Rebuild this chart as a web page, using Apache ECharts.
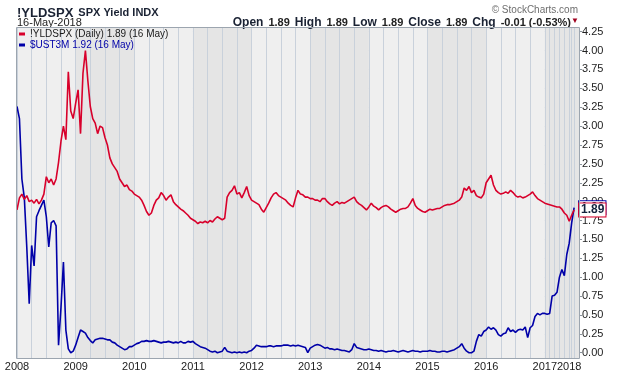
<!DOCTYPE html>
<html>
<head>
<meta charset="utf-8">
<script src="https://cdn.jsdelivr.net/npm/echarts@6/dist/echarts.min.js"></script>
<style>
  html, body { margin: 0; padding: 0; background: #fff; }
  #chart { width: 620px; height: 376px; }
</style>
</head>
<body>
<div id="chart"></div>
<script>
// !YLDSPX, semi-monthly samples (2008 .. 2016), then the compressed 2017/2018 part
const yldspx = [
  1.89, 2.05, 2.10, 2.03, 2.08, 2.00, 2.02, 1.98, 2.03, 1.97, 2.02, 2.10,
  2.33, 2.25, 2.30, 2.22, 2.30, 2.52, 2.80, 3.00, 2.82, 3.72, 3.20, 3.10,
  3.30, 3.48, 2.90, 3.70, 4.00, 3.60, 3.26, 3.10, 3.04, 2.90, 3.00, 2.98,
  2.85, 2.75, 2.58, 2.50, 2.45, 2.40, 2.30, 2.25, 2.20, 2.22, 2.16, 2.14,
  2.10, 2.08, 2.06, 2.02, 1.95, 1.87, 1.82, 1.85, 1.95, 2.02, 2.05, 2.12,
  2.08, 2.02, 2.06, 2.09, 2.00, 1.96, 1.93, 1.90, 1.88, 1.85, 1.82, 1.78,
  1.76, 1.74, 1.71, 1.73, 1.72, 1.74, 1.72, 1.75, 1.73, 1.77, 1.80, 1.78,
  1.76, 1.78, 2.06, 2.12, 2.15, 2.21, 2.10, 2.12, 2.05, 2.12, 2.20, 2.08,
  2.02, 2.00, 1.98, 1.96, 1.90, 1.86, 1.92, 1.98, 2.05, 2.10, 2.12, 2.08,
  2.06, 2.04, 2.02, 1.98, 1.95, 1.93, 2.05, 2.15, 2.10, 2.09, 2.06, 2.06,
  2.04, 2.04, 2.02, 2.02, 2.00, 2.04, 2.04, 2.00, 1.97, 1.95, 1.98, 2.00,
  1.97, 1.99, 1.98, 2.00, 2.02, 2.04, 2.06, 2.00, 1.97, 1.95, 1.92, 1.89,
  1.93, 1.98, 1.94, 1.92, 1.89, 1.92, 1.94, 1.95, 1.93, 1.90, 1.88, 1.86,
  1.88, 1.90, 1.91, 1.91, 1.93, 1.98, 2.04, 1.95, 1.91, 1.89, 1.87, 1.86,
  1.88, 1.90, 1.89, 1.90, 1.91, 1.91, 1.93, 1.95, 1.96, 1.96, 1.97, 1.98,
  2.00, 2.02, 2.06, 2.18, 2.15, 2.20, 2.12, 2.15, 2.08, 2.06, 2.05, 2.10,
  2.25, 2.30, 2.35, 2.22, 2.15, 2.12, 2.10, 2.11, 2.13, 2.11, 2.15, 2.12,
  2.08, 2.06, 2.07, 2.05, 2.06, 2.08, 2.10, 2.13, 2.08, 2.04, 2.02, 2.00,
  1.98, 1.97, 1.96, 1.95, 1.94, 1.93, 1.93, 1.90, 1.85, 1.82, 1.74, 1.82, 1.89
]

// $UST3M, same sampling
const ust3m = [
  3.26, 3.10, 2.30, 2.05, 1.40, 0.65, 1.42, 1.15, 1.80, 1.88, 1.95, 2.02,
  1.80, 1.40, 1.72, 1.75, 1.68, 0.10, 0.60, 1.20, 0.30, 0.05, 0.00, 0.02,
  0.10, 0.20, 0.30, 0.28, 0.26, 0.20, 0.16, 0.13, 0.17, 0.18, 0.19, 0.19,
  0.18, 0.17, 0.17, 0.14, 0.13, 0.10, 0.08, 0.06, 0.04, 0.05, 0.08, 0.08,
  0.10, 0.12, 0.13, 0.15, 0.15, 0.16, 0.15, 0.15, 0.16, 0.15, 0.14, 0.13,
  0.14, 0.14, 0.15, 0.14, 0.13, 0.14, 0.13, 0.15, 0.13, 0.13, 0.15, 0.14,
  0.15, 0.12, 0.10, 0.08, 0.07, 0.06, 0.04, 0.02, 0.01, 0.02, 0.00, 0.01,
  0.02, 0.07, 0.02, 0.01, 0.00, 0.01, 0.00, 0.01, 0.00, 0.01, 0.00, 0.02,
  0.03, 0.06, 0.10, 0.09, 0.08, 0.08, 0.08, 0.09, 0.09, 0.08, 0.09, 0.09,
  0.09, 0.10, 0.10, 0.10, 0.09, 0.10, 0.09, 0.10, 0.09, 0.08, 0.07, 0.00,
  0.06, 0.08, 0.10, 0.11, 0.10, 0.08, 0.06, 0.07, 0.05, 0.05, 0.04, 0.05,
  0.04, 0.03, 0.03, 0.02, 0.01, 0.04, 0.12, 0.07, 0.06, 0.05, 0.04, 0.04,
  0.05, 0.04, 0.03, 0.03, 0.02, 0.03, 0.02, 0.01, 0.02, 0.02, 0.03, 0.02,
  0.01, 0.02, 0.03, 0.02, 0.01, 0.02, 0.03, 0.02, 0.02, 0.01, 0.02, 0.02,
  0.02, 0.03, 0.02, 0.02, 0.01, 0.01, 0.02, 0.02, 0.01, 0.02, 0.03, 0.04,
  0.06, 0.08, 0.12, 0.06, 0.02, 0.00, 0.00, 0.02, 0.15, 0.24, 0.22, 0.28,
  0.30, 0.34, 0.31, 0.33, 0.30, 0.24, 0.22, 0.25, 0.26, 0.33, 0.28, 0.30,
  0.27, 0.30, 0.31, 0.30, 0.34, 0.20, 0.33, 0.36, 0.48, 0.52, 0.50, 0.52,
  0.52, 0.51, 0.52, 0.75, 0.76, 0.80, 1.00, 1.10, 1.02, 1.30, 1.45, 1.72, 1.92
]

// the chart squeezes 2017 onward, so those samples are spaced wider in time
const laterDates = [
  '2017-01-01', '2017-02-06', '2017-03-15', '2017-04-20', '2017-05-26',
  '2017-07-01', '2017-08-06', '2017-09-12', '2017-10-18', '2017-11-24',
  '2018-01-01', '2018-03-08', '2018-05-16', '2018-06-10', '2018-07-05'
]
const laterGridIdx = [216, 218, 220, 222, 224, 226, 227, 228]

const dates = []
for (let y = 2008; y <= 2016; y++) {
  for (let m = 1; m <= 12; m++) {
    const mm = String(m).padStart(2, '0')
    dates.push(`${y}-${mm}-01`, `${y}-${mm}-16`)
  }
}
dates.push(...laterDates)

const redName = '!YLDSPX (Daily) 1.89 (16 May)'
const blueName = '$UST3M 1.92 (16 May)'
const font = '"Liberation Sans", Arial, sans-serif'
const gridColor = '#c9d1db'
const lastIdx = dates.length - 1
const isYear = v => v.endsWith('-01-01')

const tag = (border) => ({
  show: true,
  formatter: p => Number(p.value).toFixed(2),
  distance: 5,
  fontFamily: font,
  fontSize: 12,
  fontWeight: 'bold',
  color: '#13223d',
  lineHeight: 12,
  backgroundColor: '#fff',
  borderColor: border,
  borderWidth: 1,
  padding: [1, 1, 0, 2]
})

const myChart = echarts.init(document.getElementById('chart'))
const option = {
  animation: false,
  textStyle: { fontFamily: font },
  title: [
    {
      text: '{a|!YLDSPX} {b|SPX Yield INDX}',
      left: 17, top: 4, padding: 0,
      textStyle: {
        rich: {
          a: { fontFamily: font, fontSize: 13, fontWeight: 'bold', color: '#1a2233' },
          b: { fontFamily: font, fontSize: 11, color: '#1a2233' }
        }
      }
    },
    {
      text: '16-May-2018',
      left: 17, top: 17, padding: 0,
      textStyle: { fontFamily: font, fontSize: 11, fontWeight: 'normal', color: '#222' }
    },
    {
      text: '{l|Open} {v|1.89} {l|High} {v|1.89} {l|Low} {v|1.89} {l|Close} {v|1.89} {l|Chg} {v|-0.01 (-0.53%)}',
      right: 49, top: 14, padding: 0,
      textStyle: {
        rich: {
          l: { fontFamily: font, fontSize: 12, fontWeight: 'bold', color: '#1a2233' },
          v: { fontFamily: font, fontSize: 11, color: '#222' }
        }
      }
    },
    {
      text: '© StockCharts.com',
      right: 42, top: 5, padding: 0,
      textStyle: { fontFamily: font, fontSize: 10, fontWeight: 'normal', color: '#6e6e6e' }
    },
    {
      text: '▼',
      left: 571, top: 17, padding: 0,
      textStyle: { fontFamily: font, fontSize: 8, fontWeight: 'normal', color: '#a0001e' }
    }
  ],
  legend: {
    orient: 'vertical',
    left: 19, top: 29, padding: 0,
    itemWidth: 6, itemHeight: 3, itemGap: 1,
    icon: 'rect',
    textStyle: { fontFamily: font, fontSize: 10, lineHeight: 10 },
    data: [
      { name: redName, textStyle: { color: '#1a1a1a' } },
      { name: blueName, textStyle: { color: '#0000a8' } }
    ]
  },
  grid: [
    // frame: background, year bands, vertical grid lines, year labels
    { left: 17, right: 41, top: 28, bottom: 18, show: true, backgroundColor: '#efefef', borderWidth: 0 },
    // value area: 0.00 .. 4.25
    { left: 17, right: 41, top: 31.7, bottom: 23.3 }
  ],
  xAxis: [
    {
      gridIndex: 0,
      type: 'category',
      data: dates,
      boundaryGap: false,
      axisLine: { show: false },
      axisTick: { show: false },
      axisLabel: {
        interval: (i, v) => isYear(v),
        formatter: v => v.slice(0, 4),
        margin: 3,
        fontFamily: font,
        fontSize: 11,
        color: '#222'
      },
      splitLine: {
        show: true,
        interval: i => (i < 216 ? i % 6 === 0 : laterGridIdx.includes(i)),
        lineStyle: { color: gridColor, width: 1 }
      },
      splitArea: {
        show: true,
        interval: (i, v) => (isYear(v) && v < '2018') || i === lastIdx,
        areaStyle: { color: ['#efefef', '#e5e5e5'] }
      }
    },
    {
      gridIndex: 1,
      type: 'category',
      data: dates,
      boundaryGap: false,
      show: false
    }
  ],
  yAxis: [
    { gridIndex: 0, type: 'value', show: false, splitLine: { show: false } },
    {
      gridIndex: 1,
      type: 'value',
      position: 'right',
      min: 0,
      max: 4.25,
      interval: 0.25,
      axisLine: { show: false },
      axisTick: { show: true, length: 3, lineStyle: { color: '#8a939c' } },
      axisLabel: {
        margin: 3,
        formatter: v => v.toFixed(2),
        fontFamily: font,
        fontSize: 11,
        color: '#222'
      },
      splitLine: { show: true, lineStyle: { color: gridColor, width: 1 } }
    }
  ],
  graphic: [
    {
      type: 'rect',
      silent: true,
      z: 100,
      shape: { x: 16.5, y: 27.5, width: 563, height: 331 },
      style: { fill: 'none', stroke: '#9ca5af', lineWidth: 1 }
    }
  ],
  series: [
    {
      name: blueName,
      type: 'line',
      xAxisIndex: 1,
      yAxisIndex: 1,
      data: ust3m,
      symbol: 'none',
      clip: false,
      z: 2,
      lineStyle: { color: '#0000a8', width: 1.6 },
      itemStyle: { color: '#0000a8' },
      endLabel: tag('#0000a8')
    },
    {
      name: redName,
      type: 'line',
      xAxisIndex: 1,
      yAxisIndex: 1,
      data: yldspx,
      symbol: 'none',
      clip: false,
      z: 3,
      lineStyle: { color: '#d8002b', width: 1.6 },
      itemStyle: { color: '#d8002b' },
      endLabel: tag('#d8002b')
    }
  ]
}
myChart.setOption(option)

window.addEventListener('resize', () => {
  myChart.resize()
})
</script>
</body>
</html>
